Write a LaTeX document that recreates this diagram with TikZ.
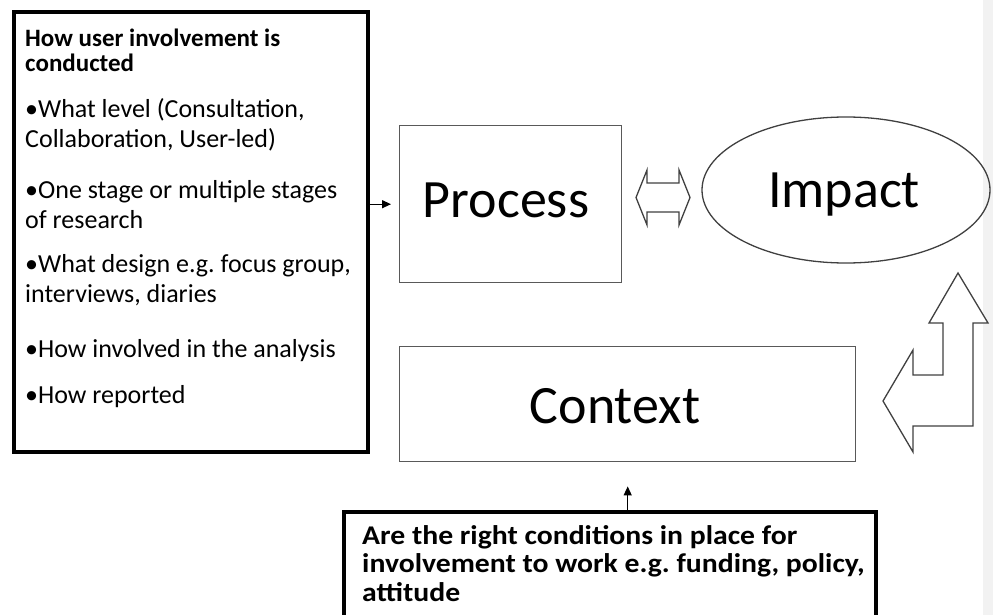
\documentclass[tikz,border=0pt]{standalone}
\usepackage{fontspec}
\setmainfont{Carlito}
\newfontfamily\widefont[FakeStretch=1.1]{Carlito}
\usetikzlibrary{shapes.geometric,arrows.meta}
\begin{document}
\begin{tikzpicture}[x=1pt,y=-1pt,
  thickbox/.style={draw=black,line width=4pt,inner sep=0pt,anchor=north west},
  thinbox/.style={draw=black!65,line width=1.4pt,inner sep=0pt,anchor=north west},
  bigword/.style={font=\fontsize{54}{60}\selectfont,anchor=base},
  para/.style={anchor=base west,inner sep=0pt,align=left,font=\fontsize{26}{30}\selectfont},
  boldpara/.style={anchor=base west,inner sep=0pt,align=left,font=\fontsize{25}{25}\selectfont\bfseries},
  outline/.style={draw=black!75,line width=1.3pt,fill=white,line join=miter},
  arr/.style={-{Triangle[length=9pt,width=8pt]},line width=1.2pt,black}]
\useasboundingbox (0,0) rectangle (993,615);
\fill[black!5] (983,0) rectangle (993,615);
% left box (text nodes anchored at the baseline of their last line)
\node[thickbox,minimum width=354pt,minimum height=440pt] (how) at (12,10) {};
\node[boldpara] (t0) at (25,72) {How user involvement is\\conducted};
\node[para] (t1) at (25,148) {•What level (Consultation,\\Collaboration, User-led)};
\node[para] (t2) at (25,228) {•One stage or multiple stages\\of research};
\node[para] (t3) at (25,302) {•What design e.g.\ focus group,\\interviews, diaries};
\node[para] (t4) at (25,357) {•How involved in the analysis};
\node[para] (t5) at (25,403) {•How reported};
% process, impact, context
\node[thinbox,minimum width=222pt,minimum height=157pt] (proc) at (399,125) {};
\node[bigword] at (506,217) {Process};
\node[ellipse,draw=black!75,line width=1.3pt,minimum width=288pt,minimum height=146pt,inner sep=0pt] (imp) at (846,190) {};
\node[bigword] at (844,207) {Impact};
\node[thinbox,minimum width=456pt,minimum height=115pt] (ctx) at (399,346) {};
\node[bigword] at (615,423) {Context};
% bottom box
\node[thickbox,minimum width=532pt,minimum height=140pt] (cond) at (342,510) {};
\node[boldpara,font=\widefont\fontsize{27}{28.5}\selectfont\bfseries] at (362,601) {Are the right conditions in place for\\involvement to work e.g.\ funding, policy,\\attitude};
% double arrow
\draw[outline] (636,197.5) -- (647,170) -- (647,183) -- (679,183) -- (679,170) -- (690,197.5)
  -- (679,225) -- (679,212) -- (647,212) -- (647,225) -- cycle;
% bent arrow
\draw[outline] (958,273) -- (988,323) -- (973,323) -- (973,426) -- (913,426) -- (913,452)
  -- (883,401) -- (913,350) -- (913,375) -- (943,375) -- (943,323) -- (929,323) -- cycle;
% small arrows
\draw[arr] (how.east |- proc.west) -- ([xshift=-8pt]proc.west);
\draw[arr] (cond.north -| ctx.south) -- ([yshift=-24pt]ctx.south);
\end{tikzpicture}
\end{document}
